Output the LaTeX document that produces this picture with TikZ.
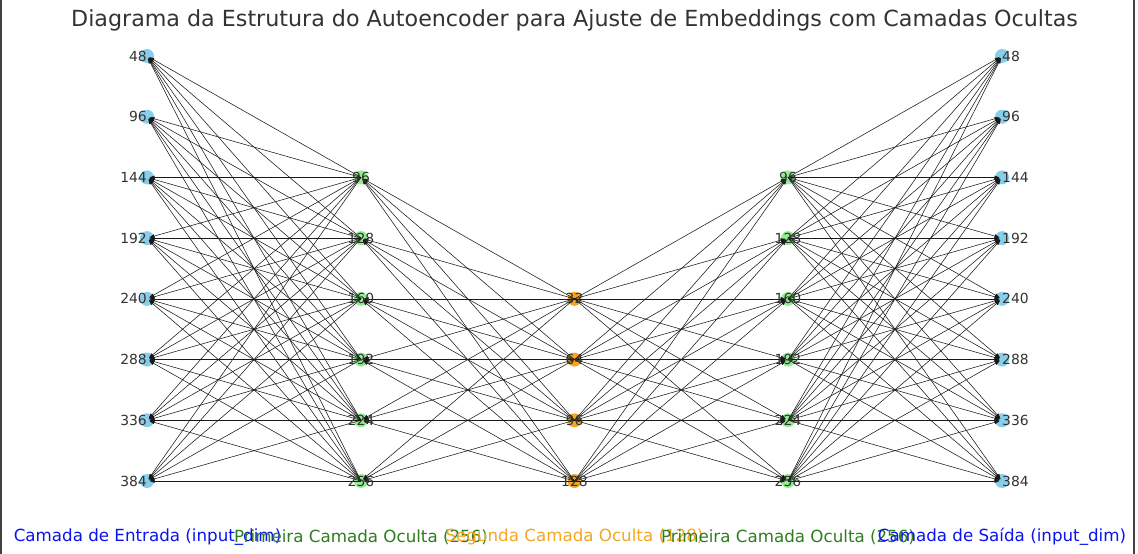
\documentclass[tikz,border=0pt]{standalone}
\usepackage{fontspec}
\setmainfont{DejaVu Sans}
\usetikzlibrary{arrows.meta}
\definecolor{skyb}{HTML}{87CEEB}
\definecolor{lgreen}{HTML}{90EE90}
\definecolor{orng}{HTML}{F5A623}
\definecolor{mgreen}{HTML}{2E7D1F}
\definecolor{lblue}{HTML}{0A14F0}
\definecolor{txt}{HTML}{333333}
\tikzset{
  nd/.style={circle, inner sep=0pt, minimum size=14pt, draw=none},
  inp/.style={nd, fill=skyb},
  hid/.style={nd, fill=lgreen},
  mid/.style={nd, fill=orng},
  edge/.style={black!90, line width=0.55pt, -{Triangle[length=5pt,width=3.6pt]}, shorten >=2.5pt},
  lbl/.style={text=txt, font=\fontsize{13.9}{16}\selectfont, inner sep=1pt},
  layercap/.style={font=\fontsize{16.7}{20}\selectfont, inner sep=0pt},
  ttl/.style={text=txt, font=\fontsize{22.2}{26}\selectfont, inner sep=0pt}
}
\begin{document}
\begin{tikzpicture}[x=1pt,y=-1pt]
\useasboundingbox (0,0) rectangle (1138,554);
\fill[white] (0,0) rectangle (1138,554);
\draw[black!75, line width=2pt] (1,0) -- (1,554);
\draw[black!75, line width=2pt] (1134,0) -- (1134,554);
% nodes
\foreach \i in {1,...,8} {
  \node[inp] (a\i) at (147, {56+(\i-1)*60.714}) {};
  \node[inp] (o\i) at (1002, {56+(\i-1)*60.714}) {};
}
\foreach \i in {1,...,6} {
  \node[hid] (h\i) at (361, {56+(\i+1)*60.714}) {};
  \node[hid] (g\i) at (788, {56+(\i+1)*60.714}) {};
}
\foreach \i in {1,...,4} {
  \node[mid] (m\i) at (574.5, {56+(\i+3)*60.714}) {};
}
% edges
\foreach \i in {1,...,8} {
  \foreach \j in {1,...,6} {
    \draw[edge] (h\j.center) -- (a\i.center);
    \draw[edge] (g\j.center) -- (o\i.center);
  }
}
\foreach \i in {1,...,6} {
  \foreach \j in {1,...,4} {
    \draw[edge] (m\j.center) -- (h\i.center);
    \draw[edge] (m\j.center) -- (g\i.center);
  }
}
% labels
\foreach \v [count=\i] in {48,96,144,192,240,288,336,384} {
  \node[lbl, anchor=east] at ([xshift=1pt]a\i.center) {\v};
  \node[lbl, anchor=west] at ([xshift=-1pt]o\i.center) {\v};
}
\foreach \v [count=\i] in {96,128,160,192,224,256} {
  \node[lbl] at (h\i.center) {\v};
  \node[lbl] at (g\i.center) {\v};
}
\foreach \v [count=\i] in {32,64,96,128} {
  \node[lbl] at (m\i.center) {\v};
}
\node[ttl] (title) at (574.5,20) {Diagrama da Estrutura do Autoencoder para Ajuste de Embeddings com Camadas Ocultas};
\node[layercap, text=lblue] (c1) at (147.5,537) {Camada de Entrada (input\_dim)};
\node[layercap, text=mgreen] (c2) at (361,537) {Primeira Camada Oculta (256)};
\node[layercap, text=orng] (c3) at (574.5,537) {Segunda Camada Oculta (128)};
\node[layercap, text=mgreen] (c4) at (788,537) {Primeira Camada Oculta (256)};
\node[layercap, text=lblue] (c5) at (1002,537) {Camada de Saída (input\_dim)};
\end{tikzpicture}
\end{document}
